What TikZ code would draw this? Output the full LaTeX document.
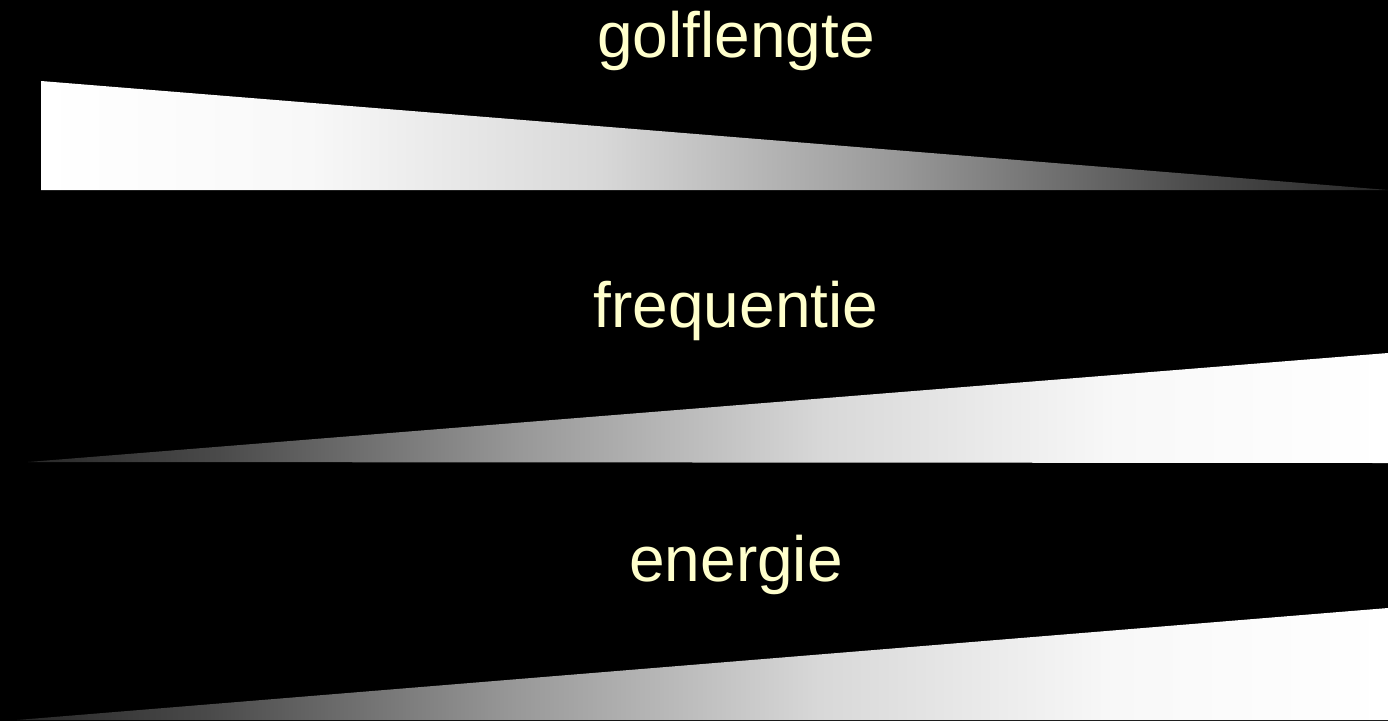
\documentclass[tikz,border=0pt]{standalone}
\usepackage{fontspec}
\setmainfont{Liberation Sans}
\usepackage{xcolor}

\definecolor{wordyellow}{HTML}{FFFFCC}
\definecolor{grayA}{RGB}{255,255,255}
\definecolor{grayB}{RGB}{248,248,248}
\definecolor{grayC}{RGB}{216,216,216}
\definecolor{grayD}{RGB}{152,152,152}
\definecolor{grayE}{RGB}{74,74,74}
\definecolor{grayF}{RGB}{40,40,40}

% white on the left, dark on the right
\pgfdeclarehorizontalshading{fadeout}{100bp}{color(0bp)=(grayA); color(25bp)=(grayA);
  color(35bp)=(grayB); color(45.75bp)=(grayC); color(56.9bp)=(grayD);
  color(68bp)=(grayE); color(75bp)=(grayF); color(100bp)=(grayF)}
% dark on the left, white on the right
\pgfdeclarehorizontalshading{fadein}{100bp}{color(0bp)=(grayF); color(25bp)=(grayF);
  color(32bp)=(grayE); color(43.1bp)=(grayD); color(54.25bp)=(grayC);
  color(65bp)=(grayB); color(75bp)=(grayA); color(100bp)=(grayA)}

\begin{document}
\begin{tikzpicture}[
  x=1pt, y=-1pt,
  titletext/.style={text=wordyellow, font=\fontsize{64}{72}\selectfont, inner sep=0pt, anchor=base},
  wedgeout/.style={shading=fadeout, draw=none},
  wedgein/.style={shading=fadein, draw=none}
]
% achtergrond
\fill[black] (0,0) rectangle (1388,721);

% golflengte -- neemt af
\node[titletext] (golf) at (736,57) {golflengte};
\shade[wedgeout] (41,81) -- (1388,190) -- (41,190) -- cycle;

% frequentie -- neemt toe
\node[titletext] (freq) at (736,327) {frequentie};
\shade[wedgein] (28,462) -- (1388,353) -- (1388,463) -- cycle;

% energie -- neemt toe
\node[titletext] (ener) at (736,581) {energie};
\shade[wedgein] (17,720) -- (1388,608) -- (1388,720) -- cycle;
\end{tikzpicture}
\end{document}
